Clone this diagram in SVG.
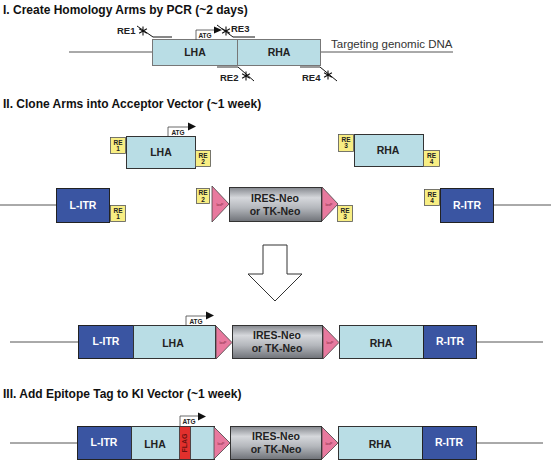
<svg xmlns="http://www.w3.org/2000/svg" width="551" height="461" viewBox="0 0 551 461">
<defs>
<linearGradient id="gray" x1="0" y1="0" x2="0" y2="1">
<stop offset="0" stop-color="#85888e"/>
<stop offset="0.3" stop-color="#d6d8dc"/>
<stop offset="0.6" stop-color="#b4b7bc"/>
<stop offset="1" stop-color="#6f7278"/>
</linearGradient>
<g id="ast">
<path d="M0,-4.5V4.5M-3.9,-2.25L3.9,2.25M-3.9,2.25L3.9,-2.25" stroke="#111" stroke-width="1.1" fill="none"/>
</g>
</defs>
<style>
.t{font-family:"Liberation Sans",Arial,sans-serif;font-weight:bold;font-size:12px;fill:#111}
.lb{font-family:"Liberation Sans",Arial,sans-serif;font-weight:bold;font-size:10.5px;fill:#222;text-anchor:middle}
.wl{font-family:"Liberation Sans",Arial,sans-serif;font-weight:bold;font-size:10.5px;fill:#fff;text-anchor:middle}
.pr{font-family:"Liberation Sans",Arial,sans-serif;font-weight:bold;font-size:9.5px;fill:#222}
.re{font-family:"Liberation Sans",Arial,sans-serif;font-weight:bold;font-size:6.5px;fill:#222;text-anchor:middle}
.atg{font-family:"Liberation Sans",Arial,sans-serif;font-weight:bold;font-size:6.5px;fill:#222;text-anchor:middle}
.lox{font-family:"Liberation Sans",Arial,sans-serif;font-size:3.5px;fill:#7a1f3a;text-anchor:middle}
.arm{fill:#b9dde5;stroke:#333;stroke-width:1}
.arm1{fill:#b9dde5;stroke:#777;stroke-width:1}
.itr{fill:#3a55a2;stroke:#222;stroke-width:1}
.rebox{fill:#f8ee83;stroke:#555;stroke-width:0.8}
.loxp{fill:#e8799e;stroke:#444;stroke-width:0.8}
.neo{fill:url(#gray);stroke:#333;stroke-width:1}
.ln{stroke:#555;stroke-width:1;fill:none}
.pl{stroke:#111;stroke-width:1;fill:none}
</style>

<!-- Titles -->
<text class="t" x="3" y="14">I. Create Homology Arms by PCR (~2 days)</text>
<text class="t" x="3" y="108">II. Clone Arms into Acceptor Vector (~1 week)</text>
<text class="t" x="3" y="398">III. Add Epitope Tag to KI Vector (~1 week)</text>

<!-- Connectors / lines -->
<g id="connectors">
<line class="ln" x1="69" y1="52" x2="453" y2="52"/>
<line class="ln" x1="0" y1="205" x2="56" y2="205"/>
<line class="ln" x1="494" y1="205" x2="551" y2="205"/>
<line class="ln" x1="10" y1="342" x2="78" y2="342"/>
<line class="ln" x1="477" y1="342" x2="543" y2="342"/>
<line class="ln" x1="10" y1="443" x2="77" y2="443"/>
<line class="ln" x1="476" y1="443" x2="543" y2="443"/>
<path d="M263,245H287V274H302L275,301L248,274H263Z" fill="#fff" stroke="#333" stroke-width="1"/>
</g>

<!-- Section I -->
<g id="s1-lha"><rect class="arm1" x="152.5" y="39.5" width="85" height="26"/><text class="lb" x="195" y="56">LHA</text></g>
<g id="s1-rha"><rect class="arm1" x="237.5" y="39.5" width="83" height="26"/><text class="lb" x="279" y="56">RHA</text></g>
<text x="331" y="48" font-family="Liberation Sans,Arial,sans-serif" font-size="11.5" fill="#333">Targeting genomic DNA</text>
<g id="primer-re1">
<path class="pl" d="M137,26L153,37H172"/>
<use href="#ast" x="143" y="31"/>
<text class="pr" x="117" y="34">RE1</text>
</g>
<g id="atg-1">
<path d="M196,40V30H214" stroke="#444" stroke-width="0.8" fill="none"/>
<path d="M214,26.5L222,30L214,33.5Z" fill="#111"/>
<text class="atg" x="205" y="38">ATG</text>
</g>
<g id="primer-re3">
<path class="pl" d="M217,25L233,37H255"/>
<use href="#ast" x="226" y="31"/>
<text class="pr" x="231" y="32">RE3</text>
</g>
<g id="primer-re2">
<line x1="217" y1="67" x2="238" y2="67" stroke="#777" stroke-width="1.5"/>
<path class="pl" d="M238,67L254,81"/>
<use href="#ast" x="246" y="76"/>
<text class="pr" x="220" y="81">RE2</text>
</g>
<g id="primer-re4">
<line x1="300" y1="67" x2="320" y2="67" stroke="#777" stroke-width="1.5"/>
<path class="pl" d="M320,67L337,81"/>
<use href="#ast" x="328" y="75"/>
<text class="pr" x="302" y="81">RE4</text>
</g>

<!-- Section II top -->
<g id="s2-lha">
<rect class="arm" x="126.5" y="136.5" width="69" height="32"/><text class="lb" x="161" y="156">LHA</text>
<path d="M168,136V127H188" stroke="#444" stroke-width="0.8" fill="none"/>
<path d="M188,122.5L196,126.5L188,130.5Z" fill="#111"/>
<text class="atg" x="178" y="134.5">ATG</text>
</g>
<g id="s2-re1a"><rect class="rebox" x="110.5" y="137.5" width="15" height="16"/><text class="re" x="118" y="144.5">RE</text><text class="re" x="118" y="151">1</text></g>
<g id="s2-re2a"><rect class="rebox" x="195.5" y="150.5" width="15" height="16"/><text class="re" x="203" y="157.5">RE</text><text class="re" x="203" y="164">2</text></g>

<g id="s2-rha"><rect class="arm" x="354.5" y="134.5" width="69" height="32"/><text class="lb" x="388" y="154">RHA</text></g>
<g id="s2-re3a"><rect class="rebox" x="338.5" y="134.5" width="15" height="17"/><text class="re" x="346" y="141.5">RE</text><text class="re" x="346" y="148">3</text></g>
<g id="s2-re4a"><rect class="rebox" x="423.5" y="150.5" width="16" height="16"/><text class="re" x="431.5" y="157.5">RE</text><text class="re" x="431.5" y="164">4</text></g>

<g id="s2-litr"><rect class="itr" x="56.5" y="188.5" width="53" height="34"/><text class="wl" x="83" y="209">L-ITR</text></g>
<g id="s2-re1b"><rect class="rebox" x="110.5" y="205.5" width="15" height="16"/><text class="re" x="118" y="212.5">RE</text><text class="re" x="118" y="219">1</text></g>

<g id="s2-re2b"><rect class="rebox" x="196.5" y="188.5" width="13" height="15"/><text class="re" x="203" y="195">RE</text><text class="re" x="203" y="201.5">2</text></g>
<g id="s2-lox1"><path class="loxp" d="M212,186V222L229,204Z"/><text class="lox" x="220" y="205.5">loxP</text></g>
<g id="s2-neo"><rect class="neo" x="229.5" y="187.5" width="92" height="34"/><text class="lb" x="275" y="202">IRES-Neo</text><text class="lb" x="275" y="215">or TK-Neo</text></g>
<g id="s2-lox2"><path class="loxp" d="M322,187V221L338,204Z"/><text class="lox" x="329" y="205.5">loxP</text></g>
<g id="s2-re3b"><rect class="rebox" x="337.5" y="205.5" width="15" height="16"/><text class="re" x="345" y="212.5">RE</text><text class="re" x="345" y="219">3</text></g>

<g id="s2-re4b"><rect class="rebox" x="424.5" y="189.5" width="15" height="16"/><text class="re" x="432" y="196.5">RE</text><text class="re" x="432" y="203">4</text></g>
<g id="s2-ritr"><rect class="itr" x="440.5" y="188.5" width="53" height="34"/><text class="wl" x="467" y="209">R-ITR</text></g>

<!-- Section II result -->
<g id="r2-litr"><rect class="itr" x="78.5" y="325.5" width="55" height="33"/><text class="wl" x="106" y="345">L-ITR</text></g>
<g id="r2-lha">
<rect class="arm" x="133.5" y="325.5" width="82" height="33"/><text class="lb" x="173" y="347">LHA</text>
<path d="M186,325V316H206" stroke="#444" stroke-width="0.8" fill="none"/>
<path d="M206,311.5L214,315.5L206,319.5Z" fill="#111"/>
<text class="atg" x="196" y="323.5">ATG</text>
</g>
<g id="r2-lox1"><path class="loxp" d="M216,326V359L232,342.5Z"/><text class="lox" x="223" y="344">loxP</text></g>
<g id="r2-neo"><rect class="neo" x="232.5" y="325.5" width="90" height="33"/><text class="lb" x="277" y="339">IRES-Neo</text><text class="lb" x="277" y="352">or TK-Neo</text></g>
<g id="r2-lox2"><path class="loxp" d="M323,326V359L339,342.5Z"/><text class="lox" x="330" y="344">loxP</text></g>
<g id="r2-rha"><rect class="arm" x="339.5" y="325.5" width="84" height="33"/><text class="lb" x="381" y="347">RHA</text></g>
<g id="r2-ritr"><rect class="itr" x="423.5" y="325.5" width="53" height="33"/><text class="wl" x="450" y="345">R-ITR</text></g>

<!-- Section III -->
<g id="r3-litr"><rect class="itr" x="77.5" y="426.5" width="54" height="33"/><text class="wl" x="104" y="446">L-ITR</text></g>
<g id="r3-lha">
<rect class="arm" x="131.5" y="426.5" width="83" height="33"/><text class="lb" x="155" y="448">LHA</text>
<rect x="179.5" y="426.5" width="11" height="33" fill="#e2302d" stroke="#333" stroke-width="0.8"/>
<text x="185" y="443" transform="rotate(-90 185 443)" font-family="Liberation Sans,Arial,sans-serif" font-weight="bold" font-size="7" fill="#6a1010" text-anchor="middle" dominant-baseline="middle">FLAG</text>
<path d="M180,426V416H198" stroke="#444" stroke-width="0.8" fill="none"/>
<path d="M198,412.5L206,416.5L198,420.5Z" fill="#111"/>
<text class="atg" x="189" y="424">ATG</text>
</g>
<g id="r3-lox1"><path class="loxp" d="M214,427V459L230,443Z"/><text class="lox" x="221" y="444.5">loxP</text></g>
<g id="r3-neo"><rect class="neo" x="230.5" y="426.5" width="91" height="33"/><text class="lb" x="276" y="440">IRES-Neo</text><text class="lb" x="276" y="453">or TK-Neo</text></g>
<g id="r3-lox2"><path class="loxp" d="M322,427V459L338,443Z"/><text class="lox" x="329" y="444.5">loxP</text></g>
<g id="r3-rha"><rect class="arm" x="338.5" y="426.5" width="84" height="33"/><text class="lb" x="380" y="448">RHA</text></g>
<g id="r3-ritr"><rect class="itr" x="422.5" y="426.5" width="54" height="33"/><text class="wl" x="449" y="446">R-ITR</text></g>
</svg>
